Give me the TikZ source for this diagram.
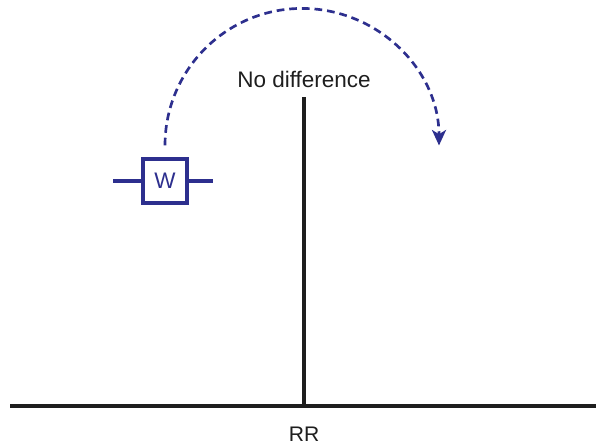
\documentclass[tikz,border=0pt]{standalone}
\usepackage{fontspec}
\setmainfont{Liberation Sans}
\usetikzlibrary{arrows.meta, positioning, calc}
\definecolor{wBlue}{HTML}{2D2F8E}
\definecolor{axisDark}{HTML}{1E1E1E}

\begin{document}
\begin{tikzpicture}[font=\fontsize{16}{19}\selectfont, >=Stealth,
    axisline/.style={axisDark, line width=2.6pt},
    wbox/.style={draw=wBlue, line width=2.2pt, minimum size=1.1cm, inner sep=0pt, text=wBlue},
    wstub/.style={wBlue, line width=2.2pt}]
  \useasboundingbox (0,0) rectangle (14.9,11.125);

  % axis and line of no effect
  \coordinate (axL) at (0.25,0.975);
  \coordinate (axR) at (14.9,0.975);
  \coordinate (axM) at (7.6,0.975);
  \coordinate (lineTop) at (7.6,8.7);
  \draw[axisline] (axL) -- (axR);
  \draw[axisline] (axM) -- (lineTop);
  \node[text=axisDark] (nodiff) at (7.6,9.15) {No difference};
  \node[text=axisDark, font=\fontsize{15}{18}\selectfont] (rr) at (7.6,0.275) {RR};

  % estimate box
  \node[wbox] (w) at (4.125,6.6) {W};
  \coordinate (wL) at (2.825,6.6);
  \coordinate (wR) at (5.325,6.6);
  \draw[wstub] (wL) -- (w.west);
  \draw[wstub] (w.east) -- (wR);

  % flip arrow
  \coordinate (arcStart) at ($(w.north)+(0,0.3)$);
  \draw[wBlue, line width=1.9pt, dash pattern=on 5.5pt off 3.5pt,
        -{Stealth[length=11pt, width=10pt, inset=3pt]}]
    (arcStart) arc[start angle=180, end angle=0, radius=3.425];
\end{tikzpicture}
\end{document}
